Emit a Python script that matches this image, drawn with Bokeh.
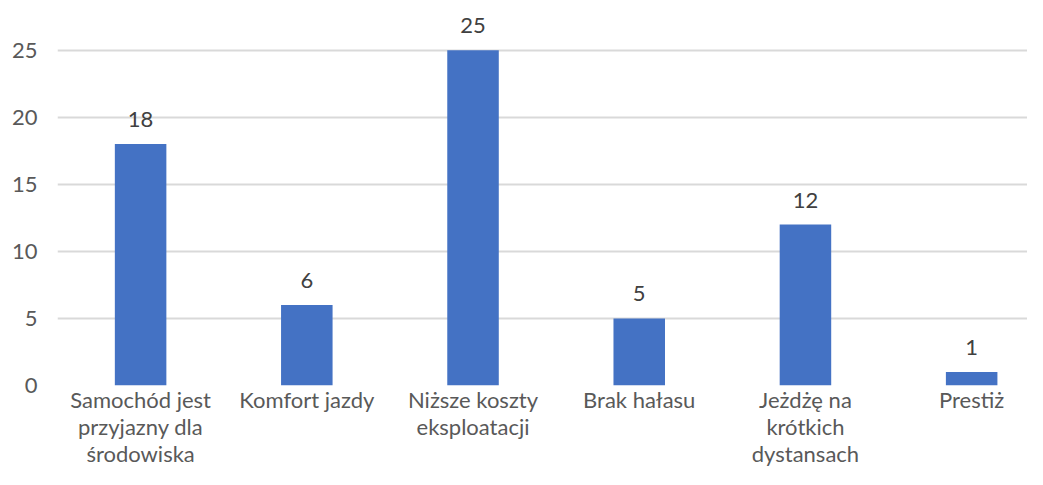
from bokeh.plotting import figure
from bokeh.models import ColumnDataSource, FixedTicker
from bokeh.core.properties import value
from bokeh.embed import file_html
from bokeh.resources import INLINE

categories = ["Samochód jest\nprzyjazny dla\nśrodowiska", "Komfort jazdy", "Niższe koszty\neksploatacji",
              "Brak hałasu", "Jeżdżę na\nkrótkich\ndystansach", "Prestiż"]
counts = [18, 6, 25, 5, 12, 1]
y_ticks = [0, 5, 10, 15, 20, 25]

xs = [i + 0.5 for i in range(len(categories))]
src = ColumnDataSource(dict(x=xs, top=counts, lab=[str(c) for c in counts]))

FONT = "Lato"
W, H = 1027, 469
p = figure(width=W, height=H, output_backend="svg", toolbar_location=None,
           x_range=(0, 5.836), y_range=(0, 28.71),
           min_border_left=57, min_border_right=0, min_border_top=0, min_border_bottom=0)
p.outline_line_color = None
p.background_fill_color = "white"
p.border_fill_color = "white"

p.vbar(x="x", top="top", width=0.31, bottom=0, source=src, fill_color="#4472C4", line_color=None)
p.text(x="x", y="top", text="lab", source=src, text_align="center", text_baseline="bottom",
       y_offset=-17, text_font=value(FONT), text_font_size="22px", text_color="#404040")

p.xaxis.ticker = FixedTicker(ticks=xs)
p.xaxis.major_label_overrides = {x: c for x, c in zip(xs, categories)}
p.yaxis.ticker = FixedTicker(ticks=y_ticks)
for ax in (p.xaxis, p.yaxis):
    ax.axis_line_color = None
    ax.major_tick_line_color = None
    ax.minor_tick_line_color = None
    ax.major_tick_out = 0
    ax.major_tick_in = 0
    ax.minor_tick_out = 0
    ax.major_label_text_font = FONT
    ax.major_label_text_font_size = "22px"
    ax.major_label_text_color = "#595959"
p.xaxis.major_label_standoff = 0
p.xaxis.major_label_text_line_height = 1.0
p.yaxis.major_label_standoff = 20
p.xgrid.grid_line_color = None
p.ygrid.grid_line_color = "#d9d9d9"
p.ygrid.grid_line_width = 2
p.ygrid.ticker = FixedTicker(ticks=y_ticks)

open("out.html", "w").write(file_html(p, INLINE))
